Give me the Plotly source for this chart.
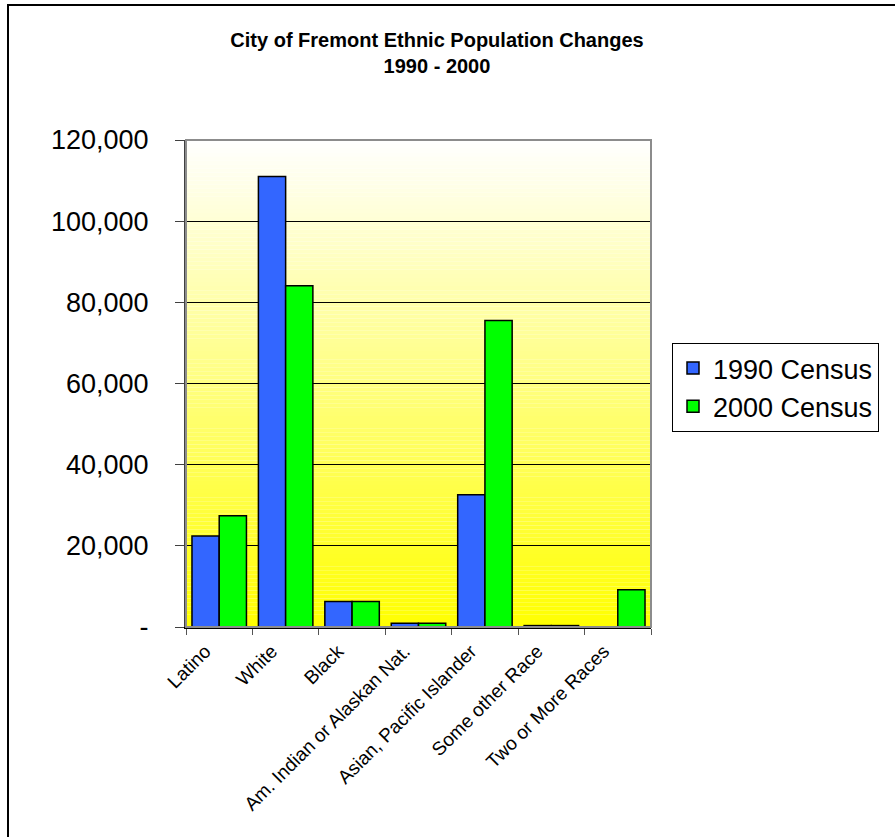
import plotly.graph_objects as go

categories = ["Latino", "White", "Black", "Am. Indian or Alaskan Nat.",
              "Asian, Pacific Islander", "Some other Race", "Two or More Races"]
census_1990 = [22400, 111000, 6300, 950, 32600, 350, None]
census_2000 = [27400, 84100, 6300, 900, 75500, 350, 9200]
y_tick_vals = [0, 20000, 40000, 60000, 80000, 100000, 120000]
y_tick_text = ["-", "20,000", "40,000", "60,000", "80,000", "100,000", "120,000"]
title_text = "City of Fremont Ethnic Population Changes<br>1990 - 2000"

FONT = "Arial, 'Liberation Sans', sans-serif"
W, H = 895, 837
L, R, T, B = 186, 244, 140, 210

fig = go.Figure()
fig.add_trace(go.Bar(name="1990 Census", x=categories, y=census_1990,
                     marker=dict(color="#3366FF", line=dict(color="black", width=1.5))))
fig.add_trace(go.Bar(name="2000 Census", x=categories, y=census_2000,
                     marker=dict(color="#00FF00", line=dict(color="black", width=1.5))))

# gradient background (white top -> yellow bottom)
shapes = []
n = 120
for i in range(n):
    f = (i + 0.5) / n  # 0 at bottom, 1 at top
    b = int(round(255 * f))
    shapes.append(dict(type="rect", xref="x domain", yref="y domain",
                       x0=0, x1=1, y0=i / n, y1=(i + 1) / n,
                       fillcolor=f"rgb(255,255,{b})", line=dict(width=0),
                       layer="below"))
# plot-area border (gray top/right)
shapes.append(dict(type="rect", xref="x domain", yref="y domain", x0=0, x1=1, y0=0, y1=1,
                   line=dict(color="#8c8c8c", width=2), fillcolor="rgba(0,0,0,0)", layer="above"))
# outer chart frame
pw = W - L - R
ph = H - T - B
shapes.append(dict(type="rect", xref="paper", yref="paper",
                   x0=(8 - L) / pw, x1=(905 - L) / pw,
                   y0=(H - B - 850) / ph, y1=(H - B - 5) / ph,
                   line=dict(color="black", width=2), fillcolor="rgba(0,0,0,0)", layer="below"))

fig.update_layout(
    width=W, height=H,
    margin=dict(l=L, r=R, t=T, b=B, autoexpand=False),
    paper_bgcolor="white", plot_bgcolor="rgba(0,0,0,0)",
    font=dict(family=FONT, color="black"),
    title=dict(text="<b>" + title_text + "</b>", x=(437) / W, xanchor="center",
               y=1 - 47 / H, yanchor="top", font=dict(size=20, family=FONT)),
    barmode="group", bargap=0.18, bargroupgap=0,
    shapes=shapes,
    legend=dict(x=(672 - L) / pw, y=(H - B - 343) / ph, xanchor="left", yanchor="top",
                bordercolor="black", borderwidth=1, bgcolor="white",
                font=dict(size=27, family=FONT), traceorder="normal"),
    showlegend=True,
)
fig.update_xaxes(type="category", tickangle=-45, tickfont=dict(size=19, family=FONT),
                 showline=True, linecolor="black", linewidth=1.5,
                 ticks="outside", ticklen=6, tickcolor="#555", tickson="boundaries",
                 ticklabelshift=-14, ticklabelstandoff=4,
                 showgrid=False, zeroline=False)
fig.update_yaxes(range=[0, 120000], tickvals=y_tick_vals, ticktext=y_tick_text,
                 tickfont=dict(size=27, family=FONT),
                 showline=True, linecolor="#404040", linewidth=2,
                 ticks="outside", ticklen=9, tickcolor="#404040",
                 ticklabelstandoff=21,
                 showgrid=True, gridcolor="black", gridwidth=1, zeroline=False)

fig.write_html("out.html")
